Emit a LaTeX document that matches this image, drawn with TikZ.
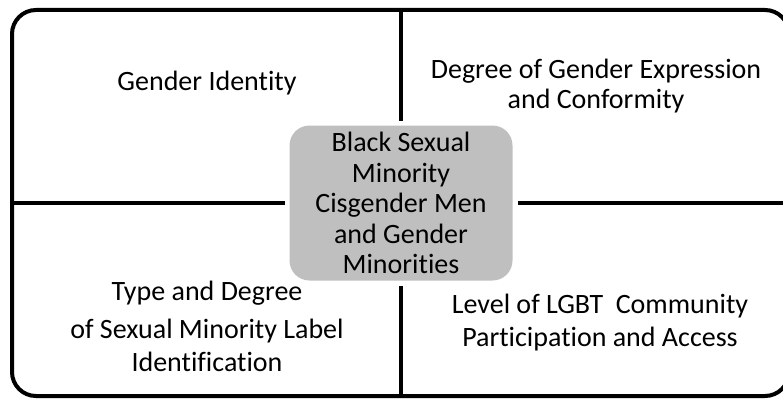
\documentclass[tikz,border=0pt]{standalone}
\usepackage{fontspec}
\setmainfont[Ligatures={NoCommon}]{Carlito}
\usetikzlibrary{positioning}
\tikzset{%
  % Specifications for style of nodes:
  base/.style = {
    text centered,
    align=center,
    font=\fontsize{28}{30.5}\selectfont
  },
  frame/.style = {draw=black, line width=4pt, rounded corners=24pt},
  core/.style = {base, fill=black!25, rounded corners=20pt, inner sep=0pt,
                 minimum width=223pt, minimum height=155pt, outer sep=5pt},
  quad/.style = {base},
  loose/.style = {base, font=\fontsize{28}{33}\selectfont},
  divider/.style = {line width=4pt},
}
\begin{document}
\begin{tikzpicture}[x=1pt, y=-1pt]
  \useasboundingbox (0,0) rectangle (783,401);
  \clip (0,0) rectangle (783,401);
  % frame
  \coordinate (nw) at (12,10);
  \coordinate (se) at (789,396);
  \draw[frame] (nw) rectangle (se);
  % nodes
  \node (core) [core] at (401,203)
  {Black Sexual\\Minority\\Cisgender Men\\and Gender\\Minorities};
  \node (identity) [quad] at (207,83) {Gender Identity};
  \node (expression) [quad] at (596,86)
  {Degree of Gender Expression\\and Conformity};
  \node (label) [loose] at (207,326)
  {Type and Degree\\[5pt]of Sexual Minority Label\\Identification};
  \node (community) [loose] at (600,323)
  {Level of LGBT\ \ Community\\Participation and Access};
  % lines
  \draw[divider] (core |- nw) -- (core.north);
  \draw[divider] (core |- se) -- (core.south);
  \draw[divider] (nw |- core) -- (core.west);
  \draw[divider] (se |- core) -- (core.east);
\end{tikzpicture}
\end{document}
